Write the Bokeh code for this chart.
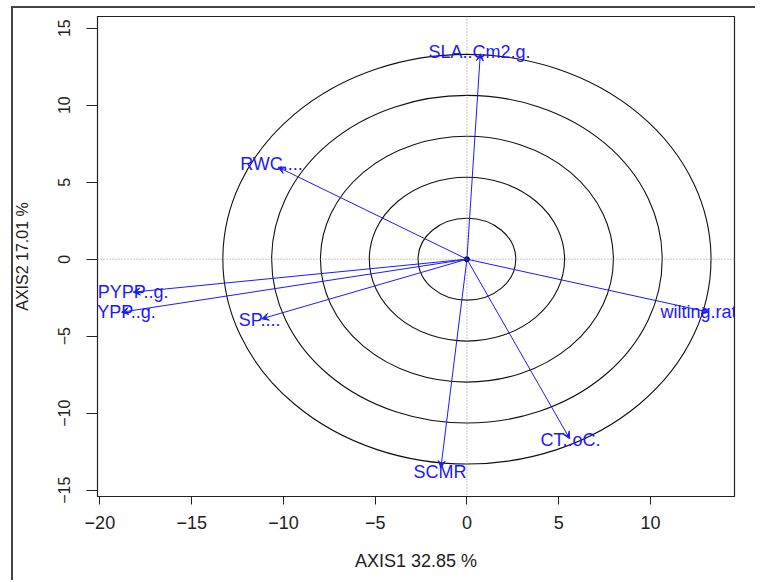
from bokeh.plotting import figure
from bokeh.models import (Range1d, FixedTicker, Span, Arrow, VeeHead,
                          ColumnDataSource)
from bokeh.embed import file_html
from bokeh.resources import INLINE

# ---- data ----
var_names = ["SLA..Cm2.g.", "RWC....", "PYPP..g.", "YPP..g.", "SP....",
             "CT..oC.", "SCMR"]
tip_x = [0.73, -10.28, -18.19, -18.82, -11.18, 5.60, -1.42]
tip_y = [13.34, 5.97, -2.14, -3.44, -3.87, -11.66, -13.55]
label_x = [0.69, -10.65, -18.19, -18.55, -11.30, 5.64, -1.47]
label_y = [13.44, 6.21, -2.10, -3.40, -3.98, -11.77, -13.83]

clipped_name = ["wilting.rat"]
clipped_tip_x = [13.18]
clipped_tip_y = [-3.44]
clipped_label_x = [10.55]
clipped_label_y = [-3.44]

circle_radii = [2.66, 5.32, 7.98, 10.64, 13.3]

x_ticks = [-20, -15, -10, -5, 0, 5, 10]
x_tick_labels = ["\u221220", "\u221215", "\u221210", "\u22125", "0", "5", "10"]
y_ticks = [-15, -10, -5, 0, 5, 10, 15]
y_tick_labels = ["\u221215", "\u221210", "\u22125", "0", "5", "10", "15"]

x_title = "AXIS1 32.85 %"
y_title = "AXIS2 17.01 %"

FONT = "Liberation Sans"
FS_H = "18px"   # horizontal texts
FS_V = "16px"   # rotated texts

p = figure(width=755, height=580, output_backend="svg", toolbar_location=None,
           x_range=Range1d(-20.13, 14.58), y_range=Range1d(-15.41, 15.76))
p.min_border_left = 97
p.min_border_right = 21
p.min_border_top = 16
p.min_border_bottom = 84
p.grid.visible = False
p.outline_line_color = "#222222"
p.outline_line_width = 1.2
p.background_fill_color = "white"
p.border_fill_color = None
# outer frame lines (top and left) painted behind the transparent canvas border
p.styles = {"background": ("linear-gradient(#444444,#444444) 11px 6px / 2px 100% no-repeat, "
                           "linear-gradient(#444444,#444444) 11px 6px / 100% 2px no-repeat, "
                           "white")}

for ax, ticks, labels in ((p.xaxis[0], x_ticks, x_tick_labels),
                          (p.yaxis[0], y_ticks, y_tick_labels)):
    ax.ticker = FixedTicker(ticks=ticks)
    ax.major_label_overrides = {t: l for t, l in zip(ticks, labels)}
    ax.minor_tick_line_color = None
    ax.major_tick_in = 0
    ax.major_tick_line_color = "#222222"
    ax.axis_line_color = "#222222"
    ax.major_label_text_font = FONT
    ax.major_label_text_color = "#222222"
    ax.axis_label_text_font = FONT
    ax.axis_label_text_font_style = "normal"
    ax.axis_label_text_color = "#222222"

p.xaxis.axis_label = x_title
p.yaxis.axis_label = y_title
p.xaxis.major_label_text_font_size = FS_H
p.xaxis.axis_label_text_font_size = FS_H
p.yaxis.major_label_text_font_size = FS_V
p.yaxis.axis_label_text_font_size = FS_V
p.xaxis.major_tick_out = 8
p.xaxis.major_label_standoff = 11
p.xaxis.axis_label_standoff = 19
p.yaxis.major_tick_out = 11
p.yaxis.major_label_orientation = "vertical"
p.yaxis.major_label_standoff = 16
p.yaxis.axis_label_standoff = 25

# dotted reference lines through the origin
p.add_layout(Span(location=0, dimension="width", line_color="#888888",
                  line_dash="1 2", line_width=1))
p.add_layout(Span(location=0, dimension="height", line_color="#888888",
                  line_dash="1 2", line_width=1))

# concentric circles
circ = ColumnDataSource(dict(x=[0] * len(circle_radii), y=[0] * len(circle_radii),
                             w=[2 * r for r in circle_radii],
                             h=[2 * r for r in circle_radii]))
p.ellipse(x="x", y="y", width="w", height="h", source=circ,
          fill_color=None, line_color="#111111", line_width=1.1)

# arrows
all_tx = tip_x + clipped_tip_x
all_ty = tip_y + clipped_tip_y
arr = ColumnDataSource(dict(x0=[0] * len(all_tx), y0=[0] * len(all_ty),
                            x1=all_tx, y1=all_ty))
p.add_layout(Arrow(source=arr, x_start="x0", y_start="y0", x_end="x1", y_end="y1",
                   line_color="#1a1aff", line_width=1,
                   end=VeeHead(size=7, line_color="#1a1aff", line_width=1,
                               fill_color="#1a1aff")))

# origin point
p.scatter(x=[0], y=[0], size=5, color="black")

# labels
lab = ColumnDataSource(dict(x=label_x, y=label_y, t=var_names))
p.text(x="x", y="y", text="t", source=lab, text_align="center",
       text_baseline="middle", text_color="#1a1aff", text_font_size=FS_H,
       text_font={"value": FONT})
lab2 = ColumnDataSource(dict(x=clipped_label_x, y=clipped_label_y, t=clipped_name))
p.text(x="x", y="y", text="t", source=lab2, text_align="left",
       text_baseline="middle", text_color="#1a1aff", text_font_size=FS_H,
       text_font={"value": FONT})

open("out.html", "w").write(file_html(p, INLINE))
